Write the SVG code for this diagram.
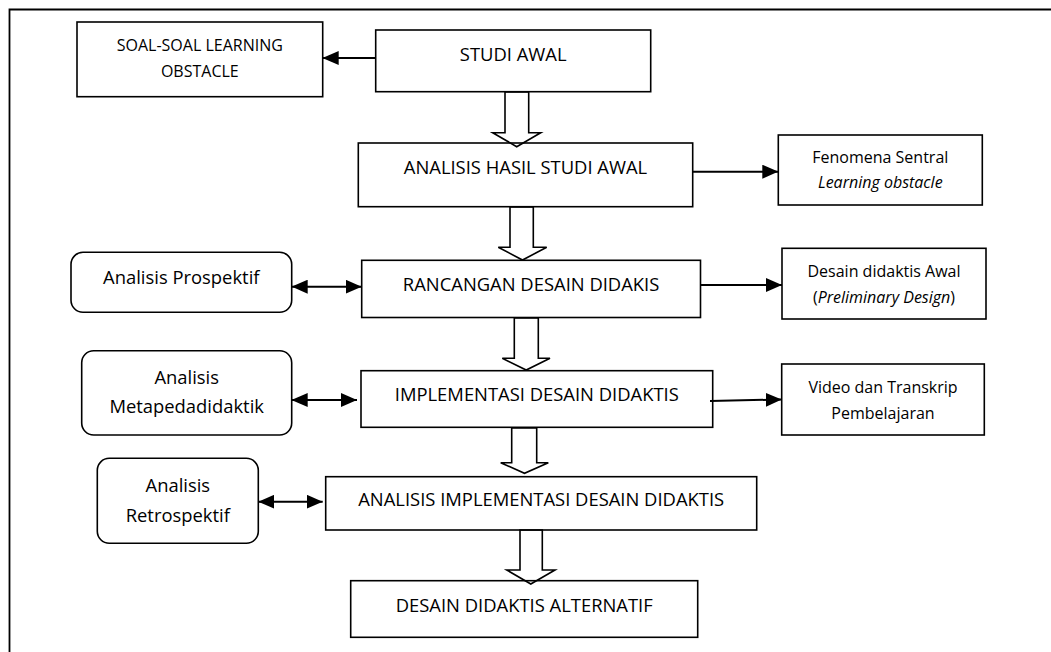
<svg xmlns="http://www.w3.org/2000/svg" width="1051" height="652" viewBox="0 0 1051 652">
<style>
.box{fill:none;stroke:#000;stroke-width:1.6}
.rbox{fill:none;stroke:#000;stroke-width:1.6}
.t{font-family:"Open Sans","Liberation Sans",sans-serif;font-size:18.4px;fill:#000;text-anchor:middle}
.s{font-family:"Open Sans","Liberation Sans",sans-serif;font-size:16px;fill:#000;text-anchor:middle}
.line{fill:none;stroke:#000;stroke-width:2}
.blk{fill:#fff;stroke:#000;stroke-width:1.6;stroke-linejoin:miter}
</style>
<defs>
<marker id="ah" viewBox="0 0 16 14" refX="16" refY="7" markerWidth="16" markerHeight="14" markerUnits="userSpaceOnUse" orient="auto-start-reverse">
<path d="M0,0 L16,7 L0,14 Z" fill="#000"/>
</marker>
</defs>
<rect x="0" y="0" width="1051" height="652" fill="#fff"/>
<g id="frame">
<path d="M9.5,652 L9.5,9.5 L1051,9.5" fill="none" stroke="#000" stroke-width="1.8"/>
</g>
<g id="connectors">
<line class="line" x1="375.7" y1="58" x2="322.7" y2="58" marker-end="url(#ah)"/>
<line class="line" x1="692.7" y1="171.7" x2="778.3" y2="171.7" marker-end="url(#ah)"/>
<line class="line" x1="700.5" y1="285" x2="782" y2="285" marker-end="url(#ah)"/>
<line class="line" x1="710" y1="401" x2="781.7" y2="399.5" marker-end="url(#ah)"/>
<line class="line" x1="291.7" y1="286.7" x2="361.7" y2="286.7" marker-start="url(#ah)" marker-end="url(#ah)"/>
<line class="line" x1="291.7" y1="400" x2="357" y2="400" marker-start="url(#ah)" marker-end="url(#ah)"/>
<line class="line" x1="258.3" y1="501.7" x2="322.7" y2="501.7" marker-start="url(#ah)" marker-end="url(#ah)"/>
<polygon class="blk" points="505,92 528.7,92 528.7,132.7 540.7,132.7 516.7,146.7 492.7,132.7 505,132.7"/>
<polygon class="blk" points="510,207 533.3,207 533.3,247.3 546.7,247.3 522.5,260 498.3,247.3 510,247.3"/>
<polygon class="blk" points="514.3,318 538.3,318 538.3,358.3 550,358.3 526.2,370 502.3,358.3 514.3,358.3"/>
<polygon class="blk" points="511.7,428 536.7,428 536.7,462.7 548.3,462.7 524.5,473.3 500.7,462.7 511.7,462.7"/>
<polygon class="blk" points="520,530 542.3,530 542.3,570 555,570 530.8,584 506.7,570 520,570"/>
</g>
<g id="soal">
<rect class="box" x="77" y="22" width="245.7" height="74.7"/>
<text class="s" x="199.8" y="50.7">SOAL-SOAL LEARNING</text>
<text class="s" x="199.8" y="76.7">OBSTACLE</text>
</g>
<g id="studi-awal">
<rect class="box" x="375.7" y="30" width="275" height="61.7"/>
<text class="t" x="513.2" y="61">STUDI AWAL</text>
</g>
<g id="analisis-hasil">
<rect class="box" x="358.3" y="143" width="334.4" height="63.7"/>
<text class="t" x="525.5" y="174">ANALISIS HASIL STUDI AWAL</text>
</g>
<g id="fenomena">
<rect class="box" x="778.3" y="135" width="204" height="70"/>
<text class="s" x="880.3" y="163.3">Fenomena Sentral</text>
<text class="s" x="880.3" y="188.3" font-style="italic">Learning obstacle</text>
</g>
<g id="prospektif">
<rect class="rbox" x="71" y="252.3" width="220.7" height="60" rx="12" ry="12"/>
<text class="t" x="181.3" y="284.3">Analisis Prospektif</text>
</g>
<g id="rancangan">
<rect class="box" x="361.7" y="260.3" width="338.8" height="57.2"/>
<text class="t" x="531.1" y="290.5">RANCANGAN DESAIN DIDAKIS</text>
</g>
<g id="desain-awal">
<rect class="box" x="782" y="248.3" width="204" height="70.7"/>
<text class="s" x="884" y="276.7">Desain didaktis Awal</text>
<text class="s" x="884" y="303.3">(<tspan font-style="italic">Preliminary Design</tspan>)</text>
</g>
<g id="metapedadidaktik">
<rect class="rbox" x="81.7" y="350.7" width="210" height="84.3" rx="12" ry="12"/>
<text class="t" x="186.7" y="384">Analisis</text>
<text class="t" x="186.7" y="413.3">Metapedadidaktik</text>
</g>
<g id="implementasi">
<rect class="box" x="361" y="370.7" width="351.7" height="56.6"/>
<text class="t" x="536.8" y="400.7">IMPLEMENTASI DESAIN DIDAKTIS</text>
</g>
<g id="video">
<rect class="box" x="781.7" y="364" width="202.6" height="71"/>
<text class="s" x="883" y="393.3">Video dan Transkrip</text>
<text class="s" x="883" y="419.3">Pembelajaran</text>
</g>
<g id="retrospektif">
<rect class="rbox" x="97.3" y="458.3" width="161" height="85" rx="12" ry="12"/>
<text class="t" x="177.8" y="491.7">Analisis</text>
<text class="t" x="177.8" y="521.7">Retrospektif</text>
</g>
<g id="analisis-implementasi">
<rect class="box" x="325.7" y="476.7" width="431" height="53.3"/>
<text class="t" x="541.2" y="505.5">ANALISIS IMPLEMENTASI DESAIN DIDAKTIS</text>
</g>
<g id="alternatif">
<rect class="box" x="350.7" y="580.7" width="347" height="56.6"/>
<text class="t" x="524.2" y="611.7">DESAIN DIDAKTIS ALTERNATIF</text>
</g>
</svg>
